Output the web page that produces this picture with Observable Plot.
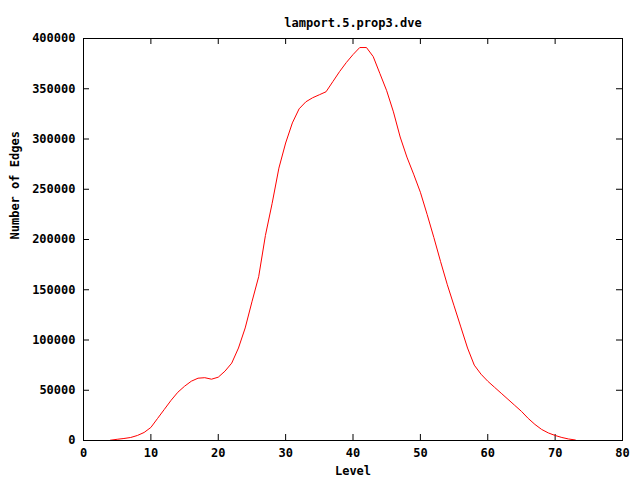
<!DOCTYPE html>
<html>
<head>
<meta charset="utf-8">
<script src="https://cdn.jsdelivr.net/npm/d3@7"></script>
<script src="https://cdn.jsdelivr.net/npm/@observablehq/plot@0.6"></script>
<style>
  html, body { margin: 0; padding: 0; background: #fff; }
  svg { display: block; }
</style>
</head>
<body>
<div id="chart"></div>
<script>
const title = "lamport.5.prop3.dve";
const xLabel = "Level";
const yLabel = "Number of Edges";
const levels = [4,5,6,7,8,9,10,11,12,13,14,15,16,17,18,19,20,21,22,23,24,25,26,27,28,29,30,31,32,33,34,35,36,37,38,39,40,41,42,43,44,45,46,47,48,49,50,51,52,53,54,55,56,57,58,59,60,61,62,63,64,65,66,67,68,69,70,71,72,73];
const edges = [300,1200,2000,3000,5000,8000,13000,22000,31000,40000,48000,54000,59000,62000,62500,61000,63000,69000,77000,92000,112000,138000,163000,204000,236000,271000,296000,316000,330000,337000,341000,344000,347000,357000,367000,376000,384000,391000,391000,382000,365000,348000,327000,302000,282000,265000,247000,225000,202000,178000,155000,134000,113000,92000,75000,66000,59000,53000,47000,41000,35000,29000,22000,16000,11000,7500,5000,3000,1500,500];
const xTicks = [0,10,20,30,40,50,60,70,80];
const yTicks = [0,50000,100000,150000,200000,250000,300000,350000,400000];

const data = levels.map((l, i) => ({level: l, edges: edges[i]}));

const W = 640, H = 480, mL = 83, mR = 18, mT = 38, mB = 40;
const pw = W - mL - mR, ph = H - mT - mB, tk = 6;
const font = "'DejaVu Sans Mono', 'Liberation Mono', monospace";

const chart = Plot.plot({
  width: W, height: H,
  marginLeft: mL, marginRight: mR, marginTop: mT, marginBottom: mB,
  style: {fontFamily: font, fontSize: "12px", fontWeight: "bold", background: "#fff", color: "#000"},
  x: {domain: [0, 80]},
  y: {domain: [0, 400000]},
  marks: [
    Plot.axisX(xTicks, {anchor: "bottom", tickSize: 0, tickPadding: 8, label: null, fontWeight: "bold"}),
    Plot.axisY(yTicks, {anchor: "left", tickSize: 0, tickPadding: 8, label: null, tickFormat: d => String(d), fontWeight: "bold"}),
    Plot.ruleX(xTicks, {x: d => d, insetTop: ph - tk, stroke: "#000"}),
    Plot.ruleX(xTicks, {x: d => d, insetBottom: ph - tk, stroke: "#000"}),
    Plot.ruleY(yTicks, {y: d => d, insetRight: pw - tk, stroke: "#000"}),
    Plot.ruleY(yTicks, {y: d => d, insetLeft: pw - tk, stroke: "#000"}),
    Plot.line(data, {x: "level", y: "edges", stroke: "#ff0000", strokeWidth: 1}),
    Plot.frame({stroke: "#000", strokeWidth: 1}),
    Plot.text([title], {frameAnchor: "top", dy: -20, text: d => d, fontWeight: "bold", fontSize: 12}),
    Plot.text([xLabel], {frameAnchor: "bottom", dy: 34, text: d => d, fontWeight: "bold", fontSize: 12}),
    Plot.text([yLabel], {frameAnchor: "left", dx: -68, rotate: -90, text: d => d, fontWeight: "bold", fontSize: 12})
  ]
});
document.getElementById("chart").appendChild(chart);
</script>
</body>
</html>
